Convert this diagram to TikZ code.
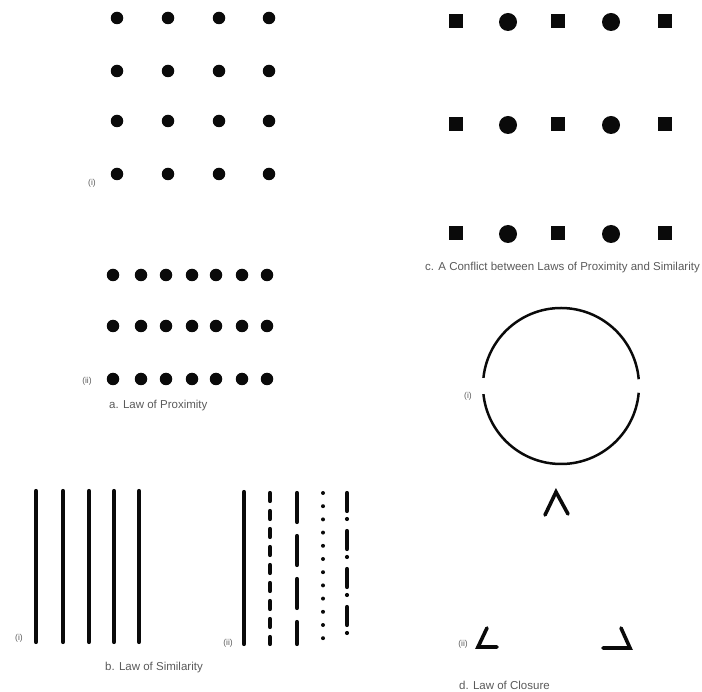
\documentclass[tikz,border=0pt]{standalone}
\usepackage{fontspec}
\setmainfont{Liberation Sans}
\usepackage{xcolor}
\definecolor{ink}{HTML}{0A0A0A}
\definecolor{faint}{HTML}{5A5A5A}
\usepackage{tikz}
\usetikzlibrary{positioning}
\tikzset{
  dot/.style={circle, fill=ink, inner sep=0pt, minimum size=12.5pt},
  disc/.style={circle, fill=ink, inner sep=0pt, minimum size=18pt},
  sq/.style={rectangle, fill=ink, inner sep=0pt, minimum size=14pt},
  bar/.style={line width=4.2pt, color=ink, line cap=round},
  stroke/.style={line width=3.6pt, color=ink, line cap=round, line join=miter},
  tag/.style={font=\fontsize{8.5}{9}\selectfont, text=faint, inner sep=0pt},
  legend/.style={font=\fontsize{11.5}{12}\selectfont, text=faint, inner sep=0pt, anchor=west},
}

\begin{document}
\begin{tikzpicture}[x=1pt, y=-1pt]
  \useasboundingbox (0,0) rectangle (702,692);

  % a. proximity, (i) even grid
  \foreach \c/\x in {1/117, 2/168, 3/219, 4/269}
    \foreach \r/\y in {1/18, 2/71, 3/121, 4/174}
      \node[dot] (pa-\c-\r) at (\x,\y) {};
  \node[tag] (pa-lab) at (92,183) {(i)};

  % a. proximity, (ii) close in rows
  \foreach \c/\x in {1/113, 2/141, 3/166, 4/192, 5/216, 6/242, 7/267}
    \foreach \r/\y in {1/275, 2/326, 3/379}
      \node[dot] (pb-\c-\r) at (\x,\y) {};
  \node[tag] (pb-lab) at (87,381) {(ii)};
  \node[legend] (leg-a) at (109,406) {a. Law of Proximity};

  % c. conflict
  \foreach \r/\y in {1/21, 2/124, 3/233} {
    \node[sq] (c-1-\r) at (456,\y) {};
    \node[disc] (c-2-\r) at (508,\y+1) {};
    \node[sq] (c-3-\r) at (558,\y) {};
    \node[disc] (c-4-\r) at (611,\y+1) {};
    \node[sq] (c-5-\r) at (665,\y) {};
  }
  \node[legend] (leg-c) at (425,268) {c. A Conflict between Laws of Proximity and Similarity};

  % b. similarity, (i) all alike
  \foreach \i/\x in {1/36, 2/63, 3/89, 4/114, 5/139}
    \draw[bar] (\x,491) -- (\x,642);
  \node[tag] (sa-lab) at (19,638) {(i)};

  % b. similarity, (ii) line kinds
  \draw[bar] (244,492) -- (244,644);
  \draw[bar, dash pattern=on 8pt off 10pt] (270,493) -- (270,644);
  \draw[bar, dash pattern=on 29pt off 14pt] (297,493) -- (297,644);
  \draw[bar, line width=4pt, dash pattern=on 0pt off 13.2pt] (323,493) -- (323,640);
  \draw[bar, dash pattern=on 18pt off 8pt on 0pt off 12pt] (347,493) -- (347,644);
  \node[tag] (sb-lab) at (228,643) {(ii)};
  \node[legend] (leg-b) at (105,668) {b. Law of Similarity};

  % d. closure, (i) broken circle
  \draw[line width=2.5pt, color=ink] (561,386) ++(5:78) arc[start angle=5, end angle=174, radius=78];
  \draw[line width=2.5pt, color=ink] (561,386) ++(186:78) arc[start angle=186, end angle=355, radius=78];
  \node[tag] (ca-lab) at (468,396) {(i)};

  % d. closure, (ii) three corners
  \draw[stroke] (545,515) -- (556,492) -- (568,514);
  \draw[stroke] (487,628) -- (478,647) -- (497,647);
  \draw[stroke] (621,628) -- (630,648) -- (603,648);
  \node[tag] (cb-lab) at (463,644) {(ii)};
  \node[legend] (leg-d) at (459,685) {d. Law of Closure};
\end{tikzpicture}
\end{document}
